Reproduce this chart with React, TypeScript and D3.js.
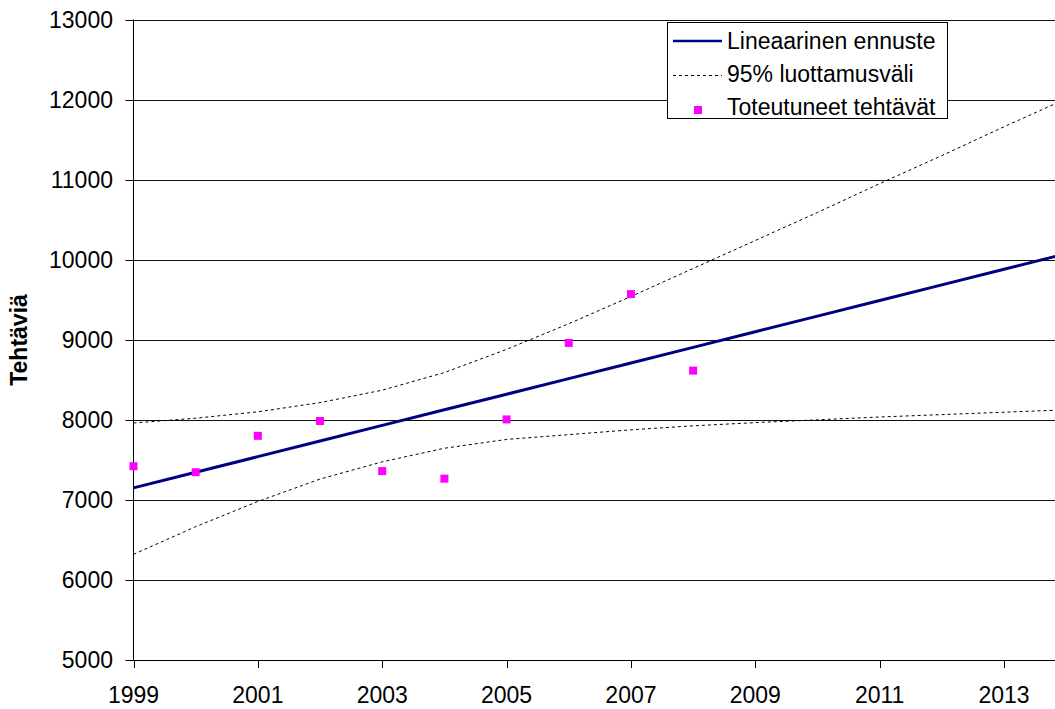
import React from 'react';
import * as d3 from 'd3';

// years shown on the chart
const years = [1999, 2000, 2001, 2002, 2003, 2004, 2005, 2006, 2007, 2008, 2009, 2010, 2011, 2012, 2013, 2014];
// linear forecast
const forecast = [7150, 7345, 7540, 7735, 7930, 8125, 8320, 8515, 8710, 8905, 9100, 9295, 9490, 9685, 9880, 10075];
// 95% confidence interval
const upper = [7960, 8020, 8100, 8215, 8370, 8590, 8880, 9200, 9540, 9890, 10240, 10590, 10950, 11300, 11660, 12010];
const lower = [6320, 6665, 6980, 7260, 7475, 7645, 7755, 7815, 7875, 7925, 7965, 8000, 8035, 8065, 8095, 8125];
// realised tasks
const actualYears = [1999, 2000, 2001, 2002, 2003, 2004, 2005, 2006, 2007, 2008];
const actual = [7420, 7345, 7800, 7985, 7360, 7265, 8005, 8960, 9570, 8615];

const yTicks = [5000, 6000, 7000, 8000, 9000, 10000, 11000, 12000, 13000];
const xTicks = [1999, 2001, 2003, 2005, 2007, 2009, 2011, 2013];

const legendItems = ['Lineaarinen ennuste', '95% luottamusväli', 'Toteutuneet tehtävät'];

const W = 1055;
const H = 709;
const FONT = '"Liberation Sans", Arial, sans-serif';

export default function App() {
  const x = d3.scaleLinear().domain([1999, 2014]).range([133.5, 1066.2]);
  const y = d3.scaleLinear().domain([5000, 13000]).range([660, 19.5]);

  const line = (vals: number[]) =>
    d3
      .line<number>()
      .x((_, i) => x(years[i]))
      .y((d) => y(d))(vals);

  const x0 = x(1999);
  const snap = (v: number) => Math.round(v) + 0.5;

  return (
    <svg
      width={W}
      height={H}
      style={{ position: 'absolute', left: 0, top: 0, background: '#fff' }}
      fontFamily={FONT}
    >
      {/* grid */}
      {yTicks.slice(1).map((t) => (
        <line key={t} x1={x0} x2={W} y1={snap(y(t))} y2={snap(y(t))} stroke="#111" strokeWidth={1.1} />
      ))}
      {/* y axis */}
      <line x1={x0} x2={x0} y1={y(13000)} y2={y(5000)} stroke="#000" strokeWidth={1} />
      {yTicks.map((t) => (
        <g key={t}>
          <line x1={x0 - 8} x2={x0} y1={snap(y(t))} y2={snap(y(t))} stroke="#000" />
          <text x={113} y={y(t)} dy="0.36em" textAnchor="end" fontSize={23} fill="#000">
            {t}
          </text>
        </g>
      ))}
      {/* x axis */}
      <line x1={x0} x2={W} y1={snap(y(5000))} y2={snap(y(5000))} stroke="#000" />
      {xTicks.map((t) => (
        <g key={t}>
          <line x1={snap(x(t))} x2={snap(x(t))} y1={y(5000)} y2={y(5000) + 8} stroke="#000" />
          <text x={x(t)} y={703} textAnchor="middle" fontSize={23} fill="#000">
            {t}
          </text>
        </g>
      ))}
      <text
        transform={`translate(27,340) rotate(-90)`}
        textAnchor="middle"
        fontSize={23}
        fontWeight="bold"
        fill="#000"
      >
        Tehtäviä
      </text>

      {/* series */}
      <path d={line(upper)} fill="none" stroke="#000" strokeWidth={1} strokeDasharray="3,3" />
      <path d={line(lower)} fill="none" stroke="#000" strokeWidth={1} strokeDasharray="3,3" />
      <path d={line(forecast)} fill="none" stroke="#000080" strokeWidth={3} />
      {actual.map((v, i) => (
        <rect key={i} x={x(actualYears[i]) - 4} y={y(v) - 4} width={8} height={8} fill="#ff00ff" />
      ))}

      {/* legend */}
      <g>
        <rect x={667.5} y={22.5} width={280} height={96} fill="#fff" stroke="#000" strokeWidth={1} />
        <line x1={673} x2={722} y1={41} y2={41} stroke="#000080" strokeWidth={2.5} />
        <line x1={673} x2={722} y1={75.5} y2={75.5} stroke="#000" strokeWidth={1} strokeDasharray="3,3" />
        <rect x={694} y={106} width={8} height={8} fill="#ff00ff" />
        {legendItems.map((t, i) => (
          <text key={t} x={727} y={49 + i * 33} fontSize={23} fill="#000">
            {t}
          </text>
        ))}
      </g>
    </svg>
  );
}
